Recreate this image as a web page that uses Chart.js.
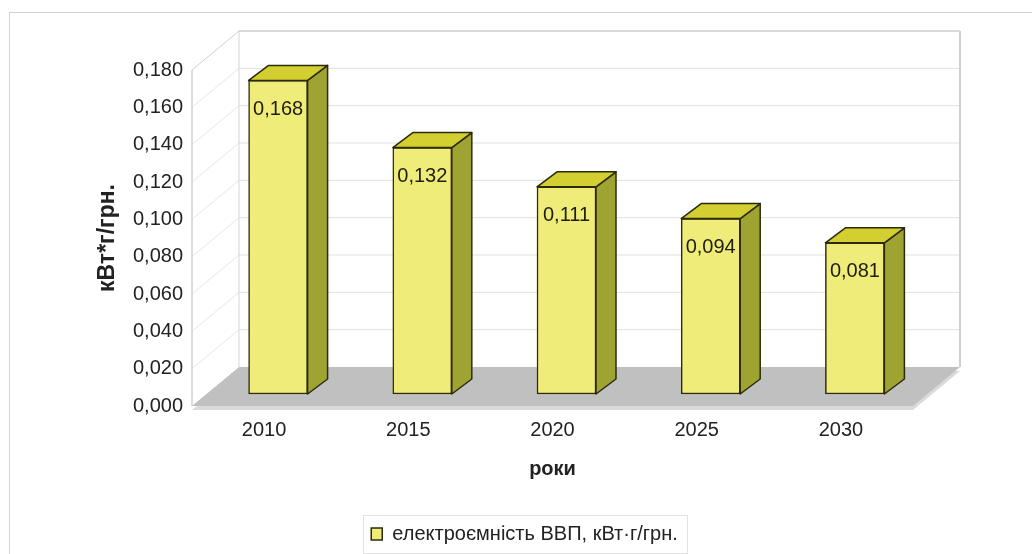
<!DOCTYPE html>
<html>
<head>
<meta charset="utf-8">
<script src="https://cdn.jsdelivr.net/npm/chart.js@4/dist/chart.umd.min.js"></script>
<style>
  html, body { margin: 0; padding: 0; background: #fff; }
  #wrap { width: 1032px; height: 554px; }
</style>
</head>
<body>
<div id="wrap"><canvas id="chart"></canvas></div>
<script>
// Data
const years = ['2010', '2015', '2020', '2025', '2030'];
const intensity = [0.168, 0.132, 0.111, 0.094, 0.081];
const yMin = 0;
const yMax = 0.18;
const yStep = 0.02;
const seriesName = 'електроємність ВВП, кВт·г/грн.';
const yTitle = 'кВт*г/грн.';
const xTitle = 'роки';

const FONT = "'Liberation Sans', Arial, sans-serif";

// 3D look: depth of the walls, where the bar front sits, depth of a bar
const WALL = { dx: 47, dy: -39 };
const BAR_FRONT = { dx: 14, dy: -12 };
const BAR_DEPTH = { dx: 20, dy: -15 };

const fmt = v => v.toFixed(3).replace('.', ',');

function line(ctx, x1, y1, x2, y2, color, w) {
  ctx.beginPath();
  ctx.moveTo(x1, y1);
  ctx.lineTo(x2, y2);
  ctx.strokeStyle = color;
  ctx.lineWidth = w || 1;
  ctx.stroke();
}

function poly(ctx, pts, fill, stroke) {
  ctx.beginPath();
  ctx.moveTo(pts[0][0], pts[0][1]);
  for (let i = 1; i < pts.length; i++) ctx.lineTo(pts[i][0], pts[i][1]);
  ctx.closePath();
  ctx.fillStyle = fill;
  ctx.fill();
  if (stroke) {
    ctx.strokeStyle = stroke;
    ctx.lineWidth = 1.5;
    ctx.lineJoin = 'round';
    ctx.stroke();
  }
}

const box3d = {
  id: 'box3d',
  afterLayout(chart) {
    // move the legend under the middle of the picture like the original
    const lg = chart.legend;
    lg.left += 68;
    lg.right += 68;
  },
  beforeDraw(chart) {
    const ctx = chart.ctx;
    ctx.save();
    ctx.strokeStyle = '#d4d4d4';
    ctx.lineWidth = 1;
    ctx.strokeRect(9.5, 12.5, 1040, 560);
    ctx.restore();
  },
  beforeDatasetsDraw(chart) {
    const ctx = chart.ctx;
    const { left, right, top, bottom } = chart.chartArea;
    const y = chart.scales.y;
    ctx.save();
    // grid on back wall and side wall
    y.ticks.forEach(t => {
      if (t.value === yMin) return;
      const py = y.getPixelForValue(t.value);
      const edge = t.value === yMax;
      line(ctx, left + WALL.dx, py + WALL.dy, right + WALL.dx, py + WALL.dy, edge ? '#cfcfcf' : '#e0e0e0', edge ? 1.5 : 1);
      line(ctx, left, py, left + WALL.dx, py + WALL.dy, edge ? '#cfcfcf' : '#e6e6e6', 1);
    });
    line(ctx, left + WALL.dx, top + WALL.dy, left + WALL.dx, bottom + WALL.dy, '#d6d6d6', 1);
    line(ctx, right + WALL.dx, top + WALL.dy, right + WALL.dx, bottom + WALL.dy, '#cfcfcf', 2);
    line(ctx, left, top, left, bottom, '#d0d0d0', 1.5);
    // floor
    poly(ctx, [[left, bottom + 4], [right, bottom + 4], [right + WALL.dx, bottom + WALL.dy + 4], [left + WALL.dx, bottom + WALL.dy + 4]], '#dadada');
    poly(ctx, [[left, bottom], [right, bottom], [right + WALL.dx, bottom + WALL.dy], [left + WALL.dx, bottom + WALL.dy]], '#c0c0c0');
    ctx.restore();
    // bars sit in the middle of the depth
    ctx.save();
    ctx.translate(BAR_FRONT.dx, BAR_FRONT.dy);
  },
  afterDatasetsDraw(chart) {
    const ctx = chart.ctx;
    const meta = chart.getDatasetMeta(0);
    meta.data.forEach((bar, i) => {
      const p = bar.getProps(['x', 'y', 'base', 'width'], true);
      const l = p.x - p.width / 2, r = p.x + p.width / 2;
      const dx = BAR_DEPTH.dx, dy = BAR_DEPTH.dy;
      poly(ctx, [[r, p.y], [r + dx, p.y + dy], [r + dx, p.base + dy], [r, p.base]], '#9ea332', '#2b2b0c');
      poly(ctx, [[l, p.y], [l + dx, p.y + dy], [r + dx, p.y + dy], [r, p.y]], '#d3cf31', '#2b2b0c');
      ctx.fillStyle = '#1e1e10';
      ctx.font = '20px ' + FONT;
      ctx.textAlign = 'center';
      ctx.textBaseline = 'middle';
      ctx.fillText(fmt(intensity[i]), p.x, p.y + 29);
    });
    ctx.restore();
  },
  afterDraw(chart) {
    const hb = chart.legend.legendHitBoxes[0];
    if (!hb) return;
    const ctx = chart.ctx;
    ctx.save();
    ctx.strokeStyle = '#e2e2e2';
    ctx.lineWidth = 1;
    ctx.strokeRect(Math.round(hb.left - 8) + 0.5, Math.round(hb.top - 9) + 0.5,
      Math.round(hb.width + 18), Math.round(hb.height + 18));
    ctx.restore();
  }
};

new Chart(document.getElementById('chart'), {
  type: 'bar',
  data: {
    labels: years,
    datasets: [{
      label: seriesName,
      data: intensity,
      backgroundColor: '#f0ec7a',
      borderColor: '#2b2b0c',
      borderWidth: 1.5,
      borderSkipped: false,
      barThickness: 59,
      clip: false
    }]
  },
  options: {
    responsive: true,
    maintainAspectRatio: false,
    animation: false,
    layout: { padding: { top: 70, right: 119, left: 0, bottom: 0 } },
    plugins: {
      tooltip: { enabled: false },
      legend: {
        position: 'bottom',
        labels: {
          font: { family: FONT, size: 20 },
          color: '#222',
          boxWidth: 11,
          boxHeight: 12,
          padding: 43
        }
      }
    },
    scales: {
      x: {
        grid: { display: false, drawTicks: false },
        border: { display: false },
        ticks: { font: { family: FONT, size: 20 }, color: '#222', padding: 12 },
        title: { display: true, text: xTitle, font: { family: FONT, size: 20, weight: 'bold' }, color: '#222', padding: 0 },
        afterFit: s => { s.height = 75; }
      },
      y: {
        min: yMin,
        max: yMax,
        grid: { display: false, drawTicks: false },
        border: { display: false },
        ticks: {
          stepSize: yStep,
          font: { family: FONT, size: 20 },
          color: '#222',
          padding: 9,
          callback: v => fmt(v)
        },
        title: { display: true, text: yTitle, font: { family: FONT, size: 23, weight: 'bold' }, color: '#222', padding: { top: 94, bottom: 0 } },
        afterFit: s => { s.width = 192; }
      }
    }
  },
  plugins: [box3d]
});
</script>
</body>
</html>
